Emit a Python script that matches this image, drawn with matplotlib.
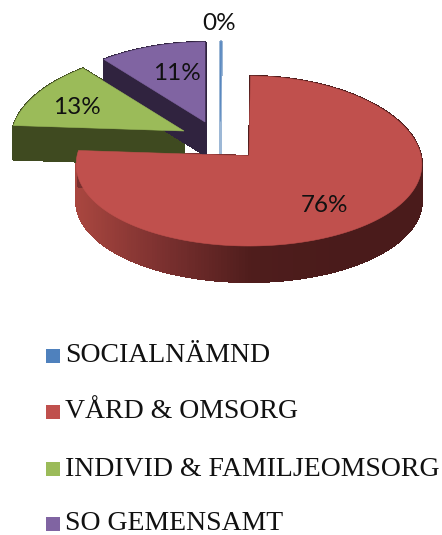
import numpy as np
import matplotlib
matplotlib.use('Agg')
import matplotlib.pyplot as plt
from matplotlib.colors import LinearSegmentedColormap
from matplotlib.patches import Rectangle

categories = ['SOCIALNÄMND', 'VÅRD & OMSORG', 'INDIVID & FAMILJEOMSORG', 'SO GEMENSAMT']
values = [0.15, 76, 13, 11]

colors = ['#4F81BD', '#C0504D', '#9BBB59', '#8064A2']
side_colors = ['#9DB8D6', '#4F1D1C', '#3F4A20', '#30233F']
# pie apex of each slice in pixels (slices are pulled out of the pie)
apex = [(220, 121), (249, 156), (184, 131), (205, 122)]
label_pos = [(219, 23), (325, 206), (77, 107), (177, 73)]
depth = [34, 36, 34, 33]

red_side = LinearSegmentedColormap.from_list('red_side', ['#A8463F', '#7A302F', '#4F1D1C', '#4A1B1B'])

RX = 172


def project(ang, ax0, ay0):
    # flat pie seen from above, a bit of perspective
    u = np.cos(ang)
    v = np.sin(ang)
    x = ax0 + u * RX * (1 - 0.1 * v)
    y = ay0 - v * 85 + 5 * v ** 2
    return x, y


fig = plt.figure(figsize=(4.42, 5.35), dpi=100)
ax = fig.add_axes([0, 0, 1, 1])
ax.set_xlim(0, 442)
ax.set_ylim(535, 0)
ax.axis('off')

total = sum(values)
angles = [np.pi / 2]
for val in values:
    angles.append(angles[-1] - val / total * 2 * np.pi)

# back slices first, the big red one goes on top
for i in [0, 3, 2, 1]:
    a = np.linspace(angles[i], angles[i + 1], 300)
    x, y = project(a, *apex[i])
    xs = np.concatenate([[apex[i][0]], x, [apex[i][0]]])
    ys = np.concatenate([[apex[i][1]], y, [apex[i][1]]])
    for j in range(len(xs) - 1):
        if i == 1:
            c = red_side(np.clip((0.5 * (xs[j] + xs[j + 1]) - 77) / 260, 0, 1))
        else:
            c = side_colors[i]
        ax.fill([xs[j], xs[j + 1], xs[j + 1], xs[j]],
                [ys[j], ys[j + 1], ys[j + 1] + depth[i], ys[j] + depth[i]],
                color=c, lw=0.8, antialiased=False, zorder=i + 1)
    ax.fill(xs, ys, color=colors[i], lw=0.4, zorder=5 + i)

for i in range(4):
    ax.text(label_pos[i][0], label_pos[i][1], '%d%%' % round(values[i] / total * 100),
            fontsize=17.5, family='Lato', color='#111111', ha='center', va='center', zorder=20)

# legend
legend_y = [356, 412, 469, 524]
for i in range(4):
    ax.add_patch(Rectangle((46, legend_y[i] - 7), 14, 14, color=colors[i], lw=0, zorder=20))
    ax.text(65, legend_y[i], categories[i], fontsize=20, family='Liberation Serif',
            color='#111111', ha='left', va='center', zorder=20)

fig.savefig('out.png', dpi=100)
